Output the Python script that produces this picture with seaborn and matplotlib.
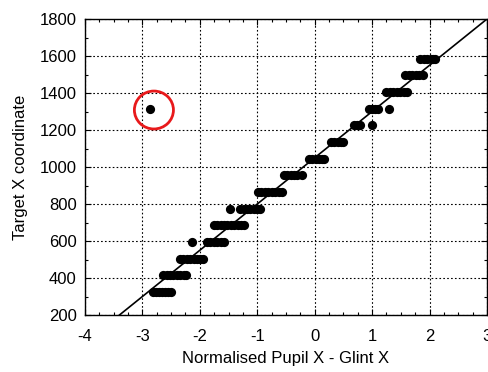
import matplotlib
matplotlib.use("Agg")
import matplotlib.pyplot as plt
from matplotlib.patches import Ellipse
from matplotlib.ticker import MultipleLocator
import numpy as np
import pandas as pd
import seaborn as sns

# Calibration samples: target X coordinate vs normalised pupil-glint X
target_levels = [325, 415, 505, 595, 685, 775, 865, 955,
                 1045, 1135, 1225, 1315, 1405, 1495, 1585]
pupil_x = [
    [-2.82, -2.77, -2.72, -2.66, -2.61, -2.55, -2.50],
    [-2.64, -2.58, -2.52, -2.46, -2.40, -2.34, -2.28, -2.24],
    [-2.35, -2.29, -2.23, -2.17, -2.11, -2.05, -1.99, -1.95],
    [-2.13, -1.88, -1.82, -1.76, -1.70, -1.64, -1.58],
    [-1.76, -1.70, -1.64, -1.58, -1.52, -1.46, -1.40, -1.34, -1.28, -1.23],
    [-1.48, -1.30, -1.24, -1.18, -1.12, -1.06, -1.00, -0.96],
    [-0.99, -0.93, -0.87, -0.81, -0.75, -0.69, -0.63, -0.57],
    [-0.54, -0.48, -0.42, -0.36, -0.30, -0.23],
    [-0.10, -0.04, 0.02, 0.08, 0.13, 0.17],
    [0.28, 0.34, 0.40, 0.45, 0.50],
    [0.68, 0.73, 0.78, 1.00],
    [-2.87, 0.94, 0.99, 1.05, 1.11, 1.30],
    [1.25, 1.31, 1.37, 1.43, 1.49, 1.55, 1.60],
    [1.58, 1.64, 1.70, 1.76, 1.82, 1.88],
    [1.84, 1.90, 1.96, 2.02, 2.06, 2.10],
]

# Linear mapping fitted to the samples
fit_slope = 250.0
fit_intercept = 1050.0
fit_x_range = [-4.0, 3.0]

# Highlighted outlier
outlier_center = (-2.80, 1308)
outlier_size = (0.68, 205)

samples = pd.DataFrame(
    [(x, y) for y, xs in zip(target_levels, pupil_x) for x in xs],
    columns=["pupil", "target"],
)
fit_line = pd.DataFrame({
    "pupil": fit_x_range,
    "target": [fit_intercept + fit_slope * v for v in fit_x_range],
})

sns.set_style("ticks")
plt.rcParams["font.family"] = ["Liberation Sans", "DejaVu Sans"]
plt.rcParams["axes.unicode_minus"] = False

fig = plt.figure(figsize=(4.89, 3.72), dpi=100)
ax = fig.add_axes([85 / 489, 57 / 372, 402 / 489, 296 / 372])

sns.lineplot(data=fit_line, x="pupil", y="target", ax=ax,
             color="black", linewidth=1.2, zorder=3)
sns.scatterplot(data=samples, x="pupil", y="target", ax=ax,
                color="black", s=44, edgecolor="black", linewidth=0, zorder=4)

ax.add_patch(Ellipse(outlier_center, outlier_size[0], outlier_size[1],
                     fill=False, edgecolor="#e8191b", linewidth=2, zorder=5))

ax.set_xlim(-4, 3)
ax.set_ylim(200, 1800)
ax.xaxis.set_major_locator(MultipleLocator(1))
ax.xaxis.set_minor_locator(MultipleLocator(0.25))
ax.yaxis.set_major_locator(MultipleLocator(200))
ax.yaxis.set_minor_locator(MultipleLocator(100))
ax.grid(True, which="major", color="black", linestyle=(0, (1.5, 2)), linewidth=0.8)
ax.tick_params(which="both", direction="in", top=True, right=True,
               color="black", labelsize=12, labelcolor="black")
ax.tick_params(axis="y", which="both", pad=6)
ax.tick_params(axis="x", which="both", pad=10)
ax.tick_params(which="major", length=4, width=0.8)
ax.tick_params(which="minor", length=2.5, width=0.8)
for sp in ax.spines.values():
    sp.set_color("black")
    sp.set_linewidth(1.0)

ax.set_xlabel("Normalised Pupil X - Glint X", fontsize=12, labelpad=5, color="black")
ax.set_ylabel("Target X coordinate", fontsize=12, labelpad=8, color="black")

fig.savefig("out.png", dpi=100)
